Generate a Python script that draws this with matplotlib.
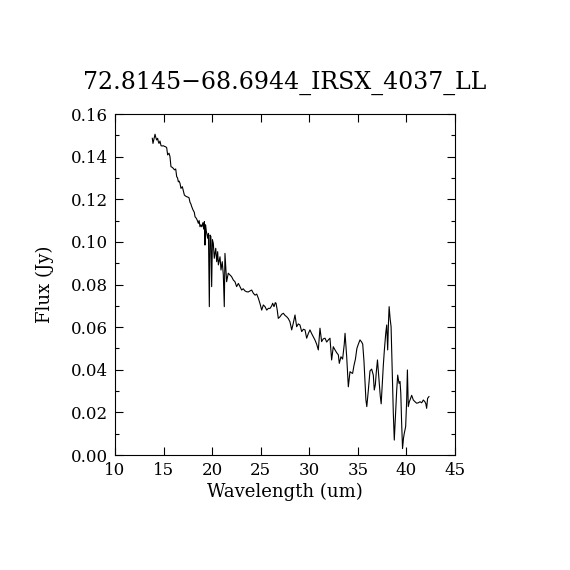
import matplotlib
matplotlib.use("Agg")
import matplotlib.pyplot as plt
from matplotlib.ticker import MultipleLocator

title = "72.8145\u221268.6944_IRSX_4037_LL"
xlabel = "Wavelength (um)"
ylabel = "Flux (Jy)"

wavelength = [
    13.84, 13.91, 14.00, 14.12, 14.20, 14.29, 14.39, 14.46, 14.53, 14.63,
    14.74, 14.85, 14.97, 15.10, 15.22, 15.32, 15.42, 15.56, 15.66, 15.76,
    15.88, 16.00, 16.12, 16.25, 16.35, 16.44, 16.52, 16.60, 16.69, 16.79,
    16.93, 17.04, 17.14, 17.26, 17.38, 17.50, 17.62, 17.72, 17.81, 17.90,
    18.03, 18.16, 18.24, 18.38, 18.48, 18.58, 18.66, 18.75, 18.84, 18.93,
    19.05, 19.13, 19.20, 19.26, 19.32, 19.40, 19.48, 19.54, 19.62, 19.71,
    19.78, 19.87, 19.95, 20.03, 20.12, 20.22, 20.37, 20.47, 20.57, 20.64,
    20.81, 20.91, 21.04, 21.15, 21.25, 21.32, 21.49, 21.66, 21.83, 22.00,
    22.18, 22.35, 22.52, 22.70, 22.87, 23.04, 23.20, 23.38, 23.55, 23.72,
    23.90, 24.07, 24.24, 24.42, 24.59, 24.76, 24.93, 25.10, 25.27, 25.44,
    25.62, 25.79, 25.96, 26.13, 26.23, 26.37, 26.50, 26.58, 26.70, 26.81,
    26.99, 27.16, 27.33, 27.50, 27.67, 27.84, 28.01, 28.19, 28.35, 28.53,
    28.70, 28.87, 29.04, 29.22, 29.39, 29.56, 29.73, 29.90, 30.07, 30.24,
    30.41, 30.58, 30.76, 30.93, 31.10, 31.27, 31.44, 31.62, 31.79, 31.96,
    32.13, 32.30, 32.47, 32.65, 32.82, 32.99, 33.09, 33.26, 33.43, 33.60,
    33.68, 33.85, 34.02, 34.19, 34.36, 34.46, 34.60, 34.75, 34.90, 35.05,
    35.22, 35.39, 35.50, 35.63, 35.75, 35.83, 35.92, 36.07, 36.25, 36.42,
    36.59, 36.69, 36.80, 36.90, 37.02, 37.18, 37.30, 37.40, 37.52, 37.62,
    37.73, 37.87, 37.97, 38.07, 38.15, 38.22, 38.32, 38.42, 38.55, 38.65,
    38.75, 38.90, 39.00, 39.10, 39.24, 39.34, 39.42, 39.50, 39.60, 39.70,
    39.78, 39.92, 40.02, 40.10, 40.19, 40.30, 40.37, 40.54, 40.71, 40.88,
    41.05, 41.22, 41.40, 41.57, 41.74, 41.90, 42.00, 42.08, 42.18, 42.32,
]

flux = [
    0.1486, 0.1462, 0.1480, 0.1505, 0.1490, 0.1478, 0.1486, 0.1470, 0.1462, 0.1473,
    0.1451, 0.1450, 0.1451, 0.1448, 0.1446, 0.1442, 0.1408, 0.1416, 0.1400, 0.1353,
    0.1350, 0.1345, 0.1338, 0.1342, 0.1306, 0.1300, 0.1282, 0.1285, 0.1275, 0.1251,
    0.1259, 0.1238, 0.1220, 0.1215, 0.1212, 0.1210, 0.1207, 0.1186, 0.1178, 0.1165,
    0.1150, 0.1139, 0.1118, 0.1110, 0.1100, 0.1087, 0.1100, 0.1071, 0.1080, 0.1071,
    0.1090, 0.1060, 0.1095, 0.0985, 0.1080, 0.1050, 0.1032, 0.1017, 0.1040, 0.0696,
    0.1032, 0.1025, 0.0790, 0.1010, 0.0993, 0.0923, 0.0970, 0.0907, 0.0954, 0.0892,
    0.0930, 0.0868, 0.0907, 0.0845, 0.0696, 0.0946, 0.0813, 0.0853, 0.0845, 0.0837,
    0.0821, 0.0813, 0.0790, 0.0805, 0.0790, 0.0774, 0.0780, 0.0770, 0.0766, 0.0765,
    0.0770, 0.0774, 0.0759, 0.0750, 0.0755, 0.0735, 0.0710, 0.0680, 0.0704, 0.0696,
    0.0680, 0.0688, 0.0688, 0.0700, 0.0712, 0.0696, 0.0715, 0.0712, 0.0680, 0.0641,
    0.0649, 0.0660, 0.0665, 0.0655, 0.0649, 0.0640, 0.0625, 0.0587, 0.0618, 0.0657,
    0.0602, 0.0615, 0.0610, 0.0579, 0.0590, 0.0587, 0.0548, 0.0570, 0.0587, 0.0570,
    0.0555, 0.0540, 0.0520, 0.0493, 0.0595, 0.0532, 0.0545, 0.0548, 0.0530, 0.0540,
    0.0548, 0.0446, 0.0508, 0.0493, 0.0480, 0.0470, 0.0430, 0.0461, 0.0450, 0.0520,
    0.0571, 0.0461, 0.0320, 0.0391, 0.0385, 0.0383, 0.0420, 0.0450, 0.0500, 0.0520,
    0.0540, 0.0530, 0.0520, 0.0440, 0.0330, 0.0258, 0.0227, 0.0300, 0.0395, 0.0403,
    0.0375, 0.0305, 0.0330, 0.0390, 0.0446, 0.0352, 0.0280, 0.0240, 0.0336, 0.0420,
    0.0493, 0.0571, 0.0610, 0.0493, 0.0620, 0.0696, 0.0640, 0.0602, 0.0367, 0.0196,
    0.0070, 0.0211, 0.0305, 0.0375, 0.0336, 0.0345, 0.0290, 0.0160, 0.0030, 0.0080,
    0.0102, 0.0133, 0.0250, 0.0399, 0.0227, 0.0250, 0.0258, 0.0280, 0.0258, 0.0250,
    0.0243, 0.0245, 0.0250, 0.0245, 0.0258, 0.0250, 0.0240, 0.0219, 0.0266, 0.0274,
]

plt.rcParams['font.family'] = ['DejaVu Serif']

fig = plt.figure(figsize=(5.7, 5.7), dpi=100)
ax = fig.add_axes([115/570, 115/570, 340/570, 341/570])
ax.plot(wavelength, flux, color='black', linewidth=0.8)

ax.set_xlim(10, 45)
ax.set_ylim(0, 0.16)
ax.xaxis.set_major_locator(MultipleLocator(5))
ax.yaxis.set_major_locator(MultipleLocator(0.02))
ax.yaxis.set_minor_locator(MultipleLocator(0.01))
ax.yaxis.set_major_formatter(matplotlib.ticker.FormatStrFormatter('%.2f'))
ax.tick_params(which='both', direction='in', top=True, right=True,
               labelsize=12, width=0.8, pad=5)
ax.tick_params(which='major', length=6)
ax.tick_params(which='minor', length=3)
for s in ax.spines.values():
    s.set_linewidth(0.8)

ax.set_xlabel(xlabel, fontsize=13, labelpad=3)
ax.set_ylabel(ylabel, fontsize=13, labelpad=12)
ax.set_title(title, fontsize=17, pad=18)

fig.savefig("out.png", dpi=100)
